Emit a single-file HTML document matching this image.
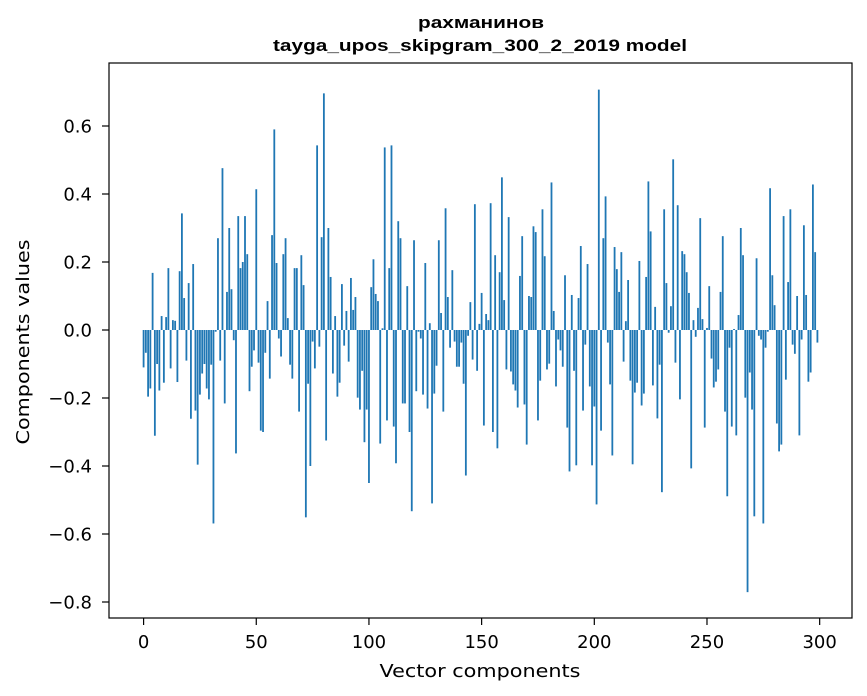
<!DOCTYPE html>
<html><head><meta charset="utf-8"><style>
html,body{margin:0;padding:0;background:#fff;}
svg{display:block;font-family:"DejaVu Sans","Liberation Sans",sans-serif;}
</style></head><body>
<svg id="chart" width="867" height="696">
<text x="481" y="28" text-anchor="middle" font-family="Liberation Sans, sans-serif" font-size="17" font-weight="bold" textLength="126" lengthAdjust="spacingAndGlyphs">рахманинов</text>
<text x="480" y="51" text-anchor="middle" font-family="Liberation Sans, sans-serif" font-size="17" font-weight="bold" textLength="414" lengthAdjust="spacingAndGlyphs">tayga_upos_skipgram_300_2_2019 model</text>
<g id="bars"></g>
<rect x="109" y="63" width="743" height="555" fill="none" stroke="#000" stroke-width="1.2"/>
<g id="xticks"></g>
<g id="yticks"></g>
<text x="480" y="677" text-anchor="middle" font-size="18" textLength="201" lengthAdjust="spacingAndGlyphs">Vector components</text>
<text transform="translate(29,342) rotate(-90)" text-anchor="middle" font-size="18" textLength="205" lengthAdjust="spacingAndGlyphs">Components values</text>
</svg>
<script>
const values = [
-0.11,-0.067,-0.196,-0.172,0.168,-0.311,-0.10,-0.178,0.041,-0.155,
0.038,0.182,-0.113,0.029,0.027,-0.153,0.173,0.343,0.094,-0.09,
0.138,-0.261,0.194,-0.237,-0.396,-0.19,-0.128,-0.10,-0.172,-0.204,
-0.102,-0.569,-0.005,0.27,-0.09,0.476,-0.216,0.112,0.30,0.12,
-0.03,-0.363,0.335,0.182,0.20,0.335,0.223,-0.18,-0.108,-0.06,
0.414,-0.096,-0.296,-0.30,-0.067,0.085,-0.143,0.279,0.59,0.197,
-0.025,-0.078,0.223,0.27,0.035,-0.102,-0.143,0.182,0.182,-0.24,
0.22,0.132,-0.551,-0.158,-0.40,-0.034,-0.113,0.543,-0.049,0.273,
0.696,-0.325,0.30,0.156,-0.128,0.041,-0.196,-0.155,0.135,-0.046,
0.056,-0.093,0.153,0.059,0.097,-0.199,-0.234,-0.12,-0.33,-0.234,
-0.45,0.126,0.208,0.106,0.085,-0.334,0.005,0.537,-0.266,0.182,
0.543,-0.284,-0.392,0.32,0.27,-0.216,-0.216,0.129,-0.30,-0.533,
0.264,-0.18,-0.005,-0.025,-0.19,0.197,-0.231,0.02,-0.51,-0.187,
-0.105,0.264,0.05,-0.24,0.358,0.097,-0.052,0.176,-0.034,-0.108,
-0.108,-0.037,-0.158,-0.428,-0.017,0.082,-0.087,0.37,-0.12,0.018,
0.109,-0.281,0.047,0.029,0.373,-0.30,0.22,-0.348,0.17,0.449,
0.088,-0.116,0.332,-0.122,-0.16,-0.178,-0.228,0.159,0.276,-0.219,
-0.337,0.10,0.097,0.305,0.288,-0.266,-0.149,0.355,0.217,-0.116,
-0.099,0.434,0.056,-0.166,-0.028,-0.06,-0.108,0.161,-0.287,-0.416,
0.103,-0.12,-0.398,0.094,0.247,-0.237,-0.043,0.194,-0.166,-0.398,
-0.225,-0.513,0.707,-0.296,0.27,0.393,-0.037,-0.16,-0.369,0.244,
0.179,0.112,0.229,-0.093,0.026,0.147,-0.149,-0.395,-0.184,-0.155,
0.203,-0.222,-0.187,0.156,0.437,0.29,-0.163,0.068,-0.26,-0.102,
-0.477,0.355,0.138,-0.008,0.07,0.502,-0.096,0.367,-0.204,0.232,
0.223,0.17,0.109,-0.407,0.029,-0.02,0.065,0.329,0.032,-0.287,
0.006,0.129,-0.084,-0.169,-0.152,-0.116,0.112,0.276,-0.24,-0.489,
-0.052,-0.284,0.003,-0.31,0.044,0.30,0.22,-0.199,-0.771,-0.125,
-0.234,-0.548,0.211,-0.017,-0.028,-0.569,-0.052,-0.005,0.417,0.161,
0.073,-0.275,-0.357,-0.337,0.335,-0.146,0.141,0.355,-0.043,-0.07,
0.10,-0.31,-0.028,0.308,0.103,-0.152,-0.125,0.428,0.229,-0.037
];
const xTickLabels = ["0","50","100","150","200","250","300"];
const xTickValues = [0,50,100,150,200,250,300];
const yTickValues = [0.6,0.4,0.2,0.0,-0.2,-0.4,-0.6,-0.8];
const yTickLabels = ["0.6","0.4","0.2","0.0","\u22120.2","\u22120.4","\u22120.6","\u22120.8"];

const NS = "http://www.w3.org/2000/svg";
const X0 = 109, X1 = 852, Y0 = 63, Y1 = 618;
const xMin = -15.35, xMax = 314.35;
const yZeroPx = 330, yPerUnit = 340;
function xs(v){ return X0 + (v - xMin) / (xMax - xMin) * (X1 - X0); }
function ys(v){ return yZeroPx - v * yPerUnit; }

const barsG = document.getElementById('bars');
const bw = 0.8 * (X1 - X0) / (xMax - xMin);
values.forEach((v, i) => {
  const r = document.createElementNS(NS, 'rect');
  const top = Math.min(ys(v), ys(0));
  const h = Math.abs(ys(v) - ys(0));
  r.setAttribute('x', xs(i) - bw / 2);
  r.setAttribute('y', top);
  r.setAttribute('width', bw);
  r.setAttribute('height', Math.max(h, 0.3));
  r.setAttribute('fill', '#1f77b4');
  
  
  barsG.appendChild(r);
});

const xg = document.getElementById('xticks');
xTickValues.forEach((t, i) => {
  const l = document.createElementNS(NS, 'line');
  l.setAttribute('x1', xs(t)); l.setAttribute('x2', xs(t));
  l.setAttribute('y1', Y1); l.setAttribute('y2', Y1 + 7);
  l.setAttribute('stroke', '#000');
  l.setAttribute('stroke-width', '1.2');
  
  
  xg.appendChild(l);
  const tx = document.createElementNS(NS, 'text');
  tx.setAttribute('x', xs(t)); tx.setAttribute('y', Y1 + 30);
  tx.setAttribute('text-anchor', 'middle'); tx.setAttribute('font-size', '18');
  tx.textContent = xTickLabels[i];
  
  
  xg.appendChild(tx);
});

const yg = document.getElementById('yticks');
yTickValues.forEach((t, i) => {
  const l = document.createElementNS(NS, 'line');
  l.setAttribute('x1', X0 - 7); l.setAttribute('x2', X0);
  l.setAttribute('y1', ys(t)); l.setAttribute('y2', ys(t));
  l.setAttribute('stroke', '#000');
  l.setAttribute('stroke-width', '1.2');
  
  
  yg.appendChild(l);
  const tx = document.createElementNS(NS, 'text');
  tx.setAttribute('x', X0 - 17); tx.setAttribute('y', ys(t) + 6.5);
  tx.setAttribute('text-anchor', 'end'); tx.setAttribute('font-size', '18');
  tx.textContent = yTickLabels[i];
  
  
  yg.appendChild(tx);
});
</script>
</body></html>
